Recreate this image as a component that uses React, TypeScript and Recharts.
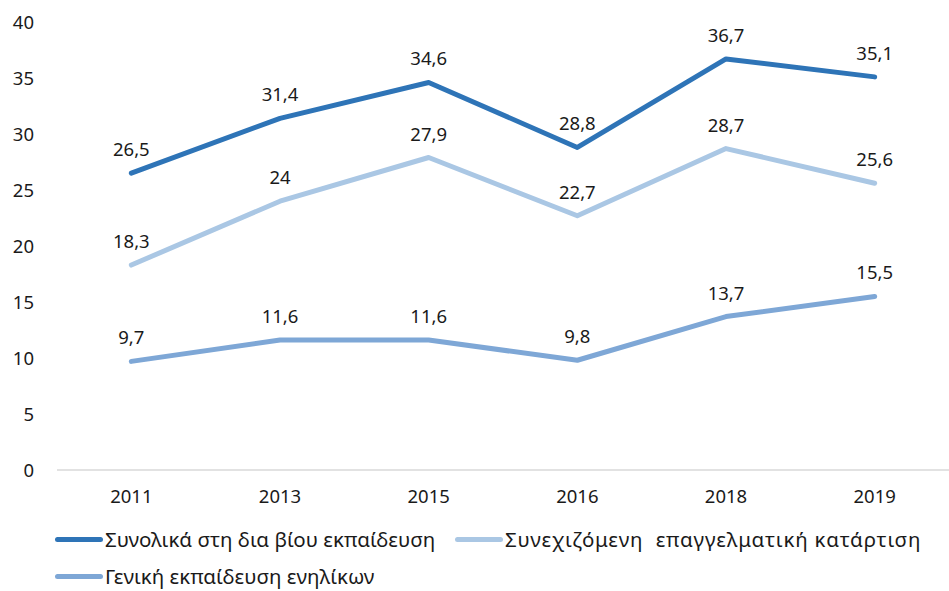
import React from 'react';
import { LineChart, Line, XAxis, YAxis, CartesianGrid, LabelList } from 'recharts';

const years = ['2011', '2013', '2015', '2016', '2018', '2019'];
const totalLifelong = [26.5, 31.4, 34.6, 28.8, 36.7, 35.1];
const continuingVocational = [18.3, 24, 27.9, 22.7, 28.7, 25.6];
const generalAdult = [9.7, 11.6, 11.6, 9.8, 13.7, 15.5];
const yTicks = [0, 5, 10, 15, 20, 25, 30, 35, 40];

const series = [
  { key: 'total', name: 'Συνολικά στη δια βίου εκπαίδευση', color: '#2E74B7', values: totalLifelong },
  { key: 'vocational', name: 'Συνεχιζόμενη  επαγγελματική κατάρτιση', color: '#AAC7E4', values: continuingVocational },
  { key: 'general', name: 'Γενική εκπαίδευση ενηλίκων', color: '#7EA7D6', values: generalAdult },
];

const data = years.map((year, i) => {
  const row: Record<string, string | number> = { year };
  series.forEach((s) => { row[s.key] = s.values[i]; });
  return row;
});

const FONT = '"Noto Sans", sans-serif';
const fmt = (v: any) => String(v).replace('.', ',');
const textStyle = { fill: '#1a1a1a', fontSize: 18.5, fontFamily: FONT };

export default function App() {
  return (
    <div style={{ position: 'relative', width: 949, height: 591, fontFamily: FONT, background: '#fff', overflow: 'hidden' }}>
      <style>{'body{margin:0}'}</style>
      <LineChart width={949} height={591} data={data} margin={{ top: 22, right: 0, bottom: 91, left: 0 }}>
        <CartesianGrid horizontal={false} vertical={false} />
        <XAxis
          dataKey="year"
          scale="band"
          axisLine={{ stroke: '#d9d9d9', strokeWidth: 1.5 }}
          tickLine={false}
          tickMargin={14}
          tick={textStyle}
        />
        <YAxis
          width={57}
          domain={[0, 40]}
          ticks={yTicks}
          axisLine={false}
          tickLine={false}
          tickMargin={17}
          tick={textStyle}
        />
        {series.map((s) => (
          <Line
            key={s.key}
            dataKey={s.key}
            name={s.name}
            stroke={s.color}
            strokeWidth={5}
            strokeLinecap="round"
            strokeLinejoin="round"
            dot={false}
            activeDot={false}
            isAnimationActive={false}
          >
            <LabelList dataKey={s.key} position="top" offset={17} formatter={fmt} style={textStyle} />
          </Line>
        ))}
      </LineChart>
      <div style={{ position: 'absolute', left: 55, top: 521, width: 894, display: 'flex', flexWrap: 'wrap', fontSize: 20.5, lineHeight: 1.1, color: '#1a1a1a' }}>
        {series.map((s, i) => (
          <div key={s.key} style={{ display: 'flex', alignItems: 'center', height: 37, width: i === 0 ? 400 : undefined, whiteSpace: 'pre' }}>
            <span style={{ display: 'inline-block', width: 48, height: 5, borderRadius: 3, background: s.color, marginRight: 2 }} />
            <span style={{ letterSpacing: i === 1 ? 0.8 : 0 }}>{s.name}</span>
          </div>
        ))}
      </div>
    </div>
  );
}
